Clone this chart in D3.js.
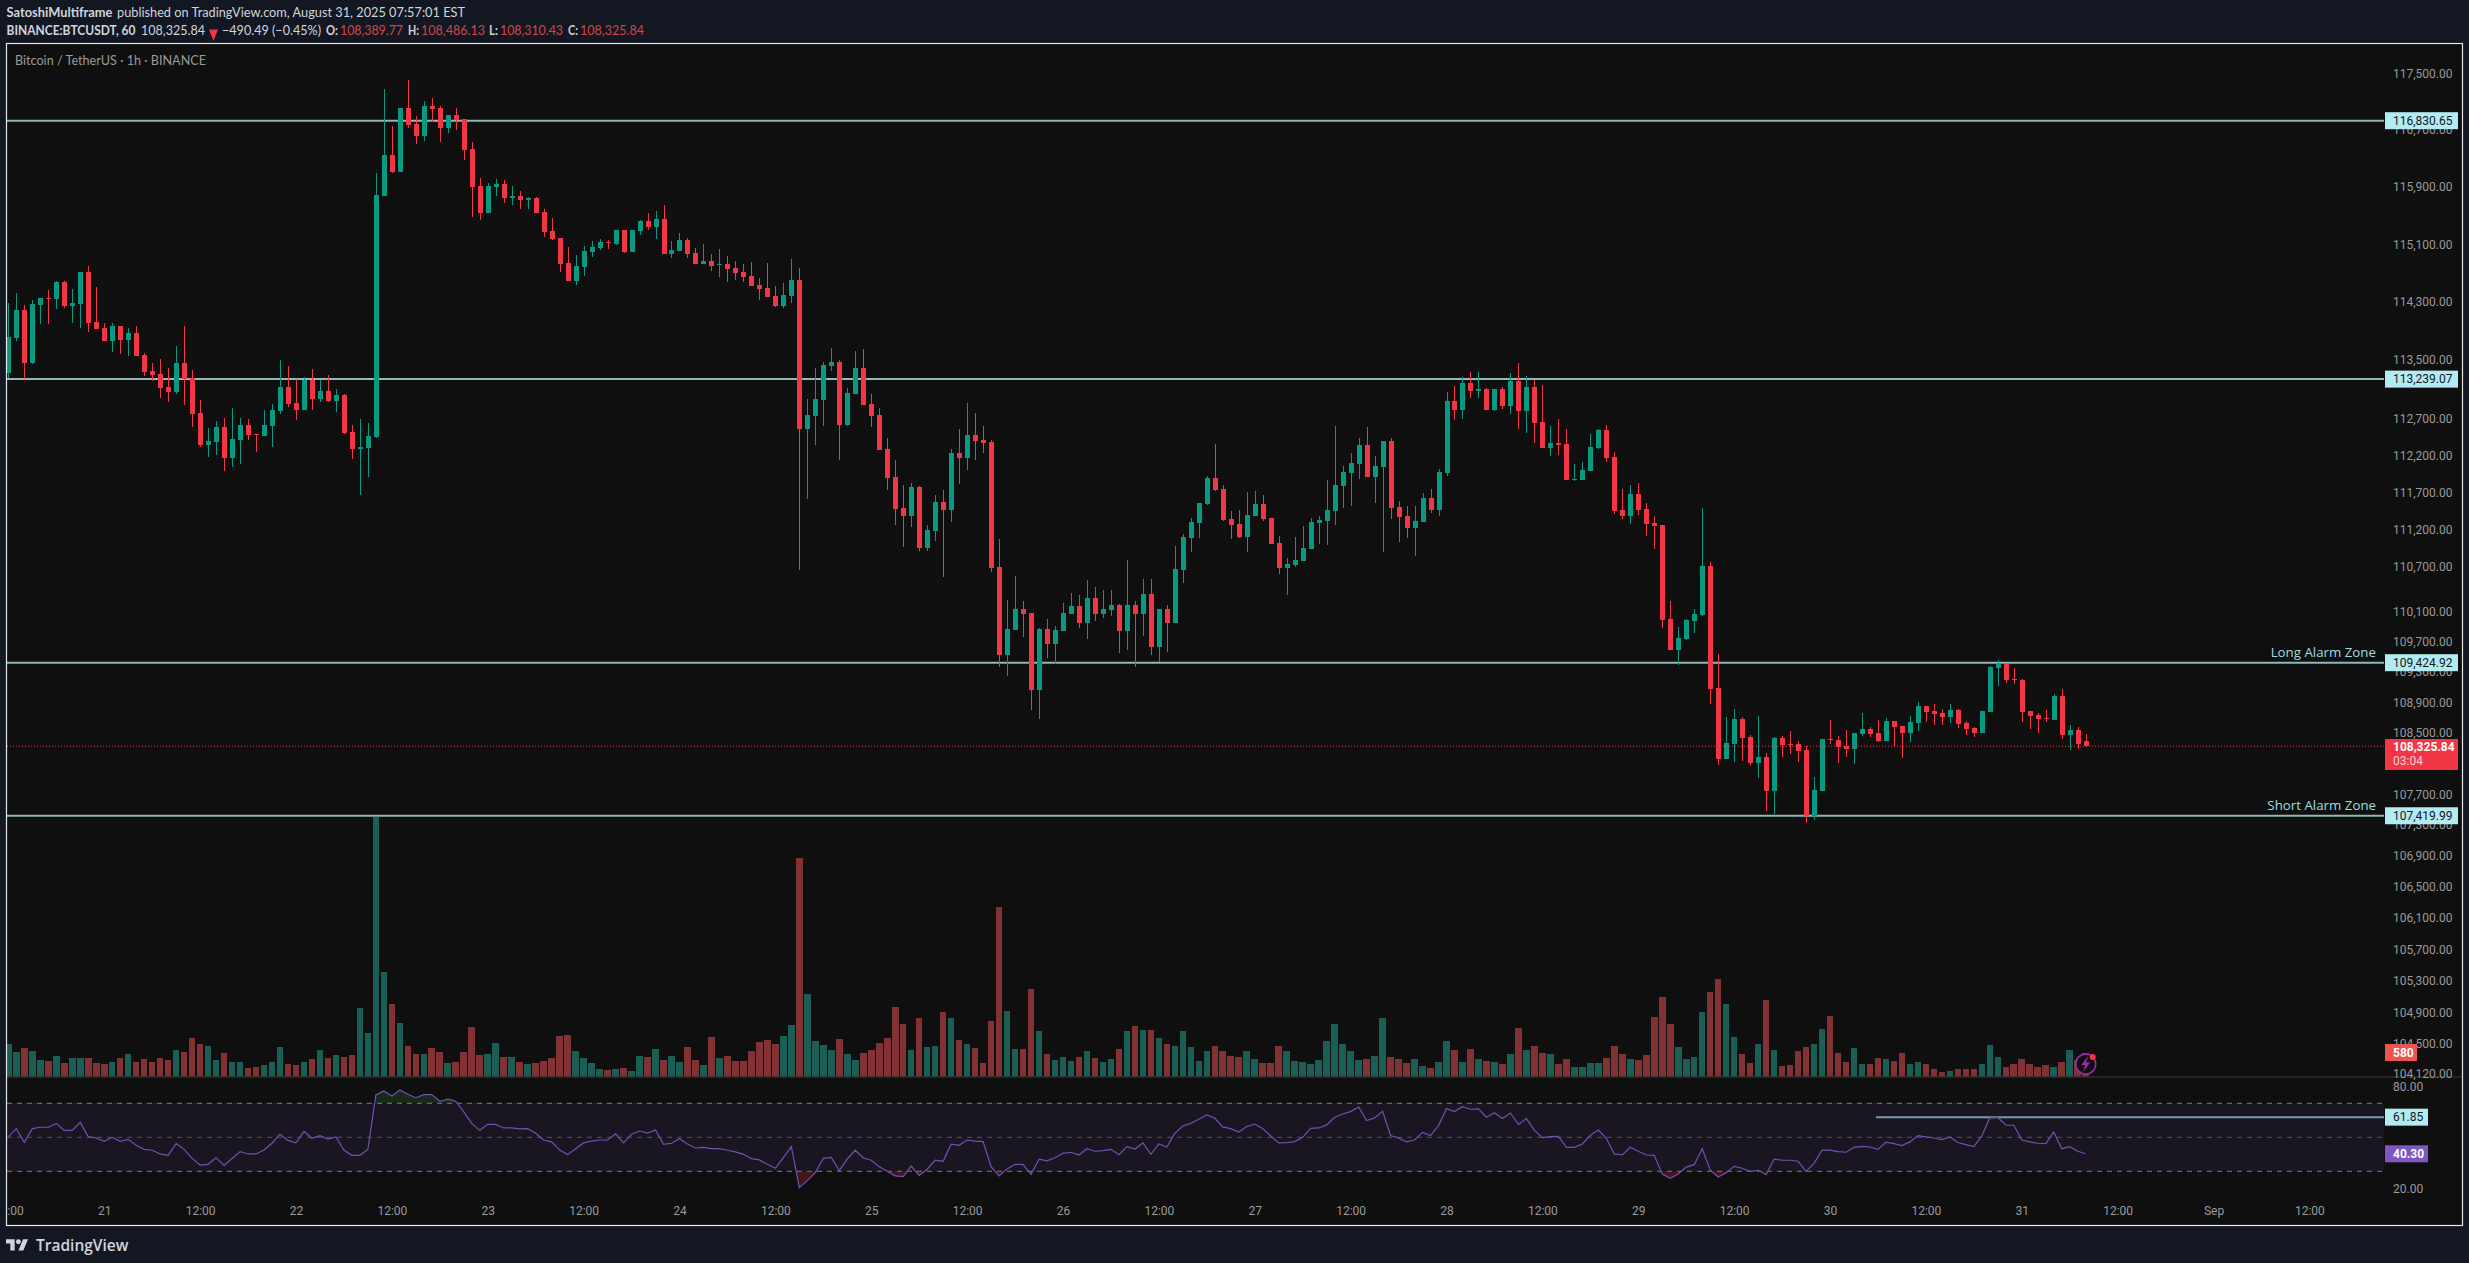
<!DOCTYPE html>
<html><head><meta charset="utf-8">
<style>html,body{margin:0;padding:0;background:#131722;overflow:hidden}svg{display:block}</style>
<script src="https://cdnjs.cloudflare.com/ajax/libs/d3/7.8.5/d3.min.js"></script>
</head><body><svg id="c" width="2469" height="1263"></svg>
<script>
const opens=[113328,113809,114182,113464,114251,114361,114334,114582,114237,114265,
114720,114030,113934,113768,113975,113782,113878,113573,113355,113314,
113137,113068,113464,113260,112782,112345,112386,112591,112168,112413,
112618,112495,112468,112604,112809,113137,112919,112823,113232,112973,
113082,112946,113027,112523,112291,112304,112447,115779,116352,116114,
117016,116790,116620,117044,117016,116733,116917,116860,116435,115919,
115541,115905,115947,115751,115779,115723,115751,115555,115290,115192,
114842,114591,114786,114996,115052,115136,115108,115304,114996,115290,
115429,115345,115457,114968,115010,115164,114982,114828,114870,114814,
114828,114772,114716,114660,114535,114493,114381,114247,114381,114604,
112563,112741,112959,113423,113478,112618,113041,113396,112905,112754,
112291,111912,111494,111386,111778,110955,111184,111575,111467,112236,
112169,112482,112413,112386,110702,109531,109864,110143,110090,109068,
109877,109677,109851,110077,110183,109957,110290,110077,110130,110197,
109851,110197,110064,110343,109638,110143,109957,110662,111090,111292,
111548,111899,111751,111346,111279,111103,111386,111548,111359,111022,
110689,110729,110782,110942,111292,111319,111454,111791,111966,112088,
112345,111912,112047,112400,111508,111386,111224,111305,111629,111467,
111966,112946,112823,113192,113083,113110,112823,113110,112878,113219,
112810,113137,112659,112304,112373,112359,111872,111872,111993,112304,
112550,112182,111467,111386,111683,111481,111292,111265,110010,109597,
109743,109983,110063,110715,109097,108163,108360,108689,108452,108110,
108189,107744,108439,108360,108360,108280,107417,107744,108425,108412,
108333,108294,108491,108557,108504,108399,108663,108596,108504,108636,
108860,108794,108768,108715,108807,108636,108570,108504,108781,109360,
109413,109215,109202,108794,108741,108702,108676,108992,108478,108544,108389.77];
const highs=[114292,114430,114251,114320,114361,114458,114596,114596,114472,114720,
114803,114513,114016,114003,113975,113934,113975,113600,113464,113519,
113396,113699,113975,113369,112959,112577,112673,112714,112850,112714,
112700,112495,112823,112905,113505,113423,113246,113273,113382,113232,
113300,113109,113041,112618,112700,112646,116100,117285,116761,117016,
117413,116903,117115,117158,117044,116917,117016,116860,116535,116031,
115961,116017,116003,115919,115849,115765,115765,115597,115471,115192,
115066,114954,115080,115150,115178,115164,115304,115304,115304,115443,
115541,115569,115653,115150,115262,115192,115052,115108,114968,115038,
114940,114870,114828,114856,114632,114842,114520,114562,114898,114772,
112973,113396,113478,113669,113505,113123,113628,113655,113041,112850,
112441,112142,111805,111831,111791,111265,111670,111737,112291,112563,
112919,112782,112604,112413,111075,110263,110582,110250,110090,109891,
110009,109917,110223,110356,110330,110529,110436,110396,110396,110210,
110795,110250,110542,110542,110143,110197,110972,111144,111359,111562,
111926,112359,111805,111454,111467,111710,111724,111670,111359,111117,
110822,111103,111252,111359,111386,111872,112604,112061,112236,112441,
112586,112196,112400,112441,111589,111521,111521,111696,111750,112020,
113069,113151,113274,113342,113342,113123,113110,113137,113328,113465,
113287,113233,113164,112605,112700,112564,112087,112114,112496,112564,
112618,112249,111750,111804,111831,111561,111386,111265,110249,109903,
110010,110143,111494,110768,109545,108715,108820,108715,108478,108728,
108241,108452,108465,108531,108399,108333,107927,108425,108676,108465,
108544,108504,108768,108583,108676,108702,108663,108596,108728,108913,
108860,108886,108820,108886,108820,108663,108583,108794,109387,109466,
109426,109360,109215,108794,108768,108807,109018,109084,108610,108583,108486.13];
const lows=[113260,113768,113246,113451,113989,113989,114196,114210,114003,113934,
113892,113920,113768,113614,113587,113560,113560,113287,113219,112986,
112932,113041,112891,112591,112318,112182,112209,111993,112047,112088,
112413,112250,112468,112318,112768,112864,112686,112823,112823,112932,
112932,112795,112495,112155,111669,111912,112440,115779,116100,116114,
116733,116506,116549,116818,116535,116662,116705,116282,115485,115443,
115541,115779,115681,115653,115597,115597,115541,115206,115164,114716,
114591,114535,114660,114926,115024,115038,115094,114982,114996,115234,
115304,115178,114968,114912,115010,114912,114828,114828,114730,114646,
114576,114604,114576,114520,114325,114367,114234,114220,114288,110662,
111616,112346,112604,113355,112142,112604,113041,112891,112591,112277,
111737,111265,110968,111238,110915,110915,111050,110569,111306,111818,
112007,112142,112236,110636,109372,109253,109864,109771,108800,108680,
109491,109412,109851,110064,109891,109744,109984,110024,110050,109558,
109597,109372,109784,109531,109438,109571,109957,110489,110902,111090,
111535,111724,111319,111076,111090,110902,111386,111319,111009,110609,
110330,110702,110782,110942,111009,110995,111265,111494,111521,111885,
111912,111562,110902,111346,111036,111090,110848,111305,111427,111386,
111926,112687,112700,112987,112987,112823,112810,112837,112769,112564,
112509,112373,112304,112195,112209,111872,111858,111872,111993,112291,
112114,111413,111346,111278,111400,111116,110941,109890,109597,109400,
109730,109823,110050,108886,108084,108163,108123,108136,108084,107914,
107482,107443,108189,108228,108123,107325,107365,107744,108360,108110,
108189,108097,108465,108452,108386,108399,108320,108176,108386,108531,
108649,108610,108610,108636,108570,108478,108452,108504,108781,109123,
109163,109150,108649,108557,108504,108649,108676,108425,108280,108294,108310.43];
const closes=[113823,114182,113464,114265,114361,114348,114582,114237,114279,114720,
114016,113920,113768,113975,113782,113878,113560,113341,113300,113123,
113068,113464,113246,112768,112345,112400,112591,112168,112427,112618,
112482,112482,112618,112823,113137,112905,112823,113232,112973,113082,
112946,113027,112509,112291,112318,112468,115793,116352,116114,117016,
116775,116620,117044,117002,116733,116917,116846,116421,115905,115541,
115919,115947,115751,115779,115723,115751,115541,115276,115178,114828,
114591,114800,115010,115066,115136,115122,115304,114996,115304,115429,
115345,115457,114968,115024,115164,114968,114828,114870,114800,114828,
114758,114702,114646,114520,114479,114367,114247,114395,114604,112563,
112754,112973,113437,113478,112618,113055,113396,112891,112741,112277,
111899,111481,111386,111778,110955,111198,111575,111467,112236,112169,
112482,112400,112372,110689,109531,109877,110143,110077,109068,109877,
109677,109864,110090,110183,109957,110290,110077,110143,110197,109851,
110197,110064,110343,109638,110143,109957,110676,111103,111306,111562,
111899,111737,111333,111265,111103,111400,111548,111346,111009,110689,
110742,110795,110955,111306,111333,111467,111805,111980,112101,112345,
111912,112061,112400,111494,111373,111224,111319,111629,111467,111979,
112946,112823,113192,113083,113110,112823,113110,112878,113219,112810,
113137,112646,112304,112373,112345,111872,111885,112006,112318,112550,
112168,111453,111386,111683,111467,111278,111251,109996,109597,109757,
109996,110076,110715,109084,108163,108373,108689,108439,108110,108189,
107744,108439,108346,108346,108267,107417,107757,108425,108412,108320,
108294,108504,108557,108491,108399,108663,108583,108504,108649,108860,
108781,108755,108715,108807,108623,108557,108504,108794,109374,109413,
109202,109202,108781,108728,108689,108689,108992,108478,108544,108360,108325.84];
const volumes=[792,600,696,624,408,384,504,336,456,456,
456,336,312,360,456,552,360,432,360,456,
408,648,600,936,792,744,408,576,360,360,
216,240,288,360,720,312,288,360,432,648,
456,528,480,528,1656,1056,6240,2520,1752,1296,
744,552,552,696,600,336,360,600,1200,528,
552,816,480,480,360,312,336,384,456,984,
1008,624,456,336,192,168,192,216,144,504,
480,672,408,504,360,720,408,288,960,456,
504,384,384,624,840,888,792,984,1248,5256,
1992,864,768,648,912,552,408,576,648,816,
936,1680,1272,648,1416,720,744,1560,1416,888,
792,696,336,1344,4080,1584,672,672,2112,1104,
552,408,480,384,480,624,456,360,432,672,
1104,1224,1128,1128,936,792,744,1104,720,384,
624,744,624,504,480,624,432,336,336,744,
624,384,360,312,408,864,1272,792,624,408,
432,504,1416,480,432,336,432,264,216,360,
864,648,360,672,432,384,360,312,552,1176,
648,744,576,552,312,432,240,240,336,336,
456,744,552,432,408,528,1440,1920,1272,720,
432,480,1560,2040,2352,1752,960,552,336,792,
1848,648,264,288,624,720,792,1152,1464,576,
360,696,312,312,456,432,384,576,312,360,
312,192,120,144,192,192,192,312,768,480,
240,312,432,312,240,288,240,360,648,408,580];
const rsi=[50.4,55.1,46.9,55.1,55.9,55.9,58.2,54.1,54.1,58.8,
50.4,49.6,47.6,50,47.6,48.8,45.3,42.9,42.4,40.2,
39.4,46.3,42.9,37.6,33.7,34.1,38,33.5,37.5,41.6,
40.2,40.2,42.5,46.5,51.8,48.2,46.7,53.5,49.4,51,
49,50.2,42.5,39.4,39.4,42.9,74.9,77.3,74.3,77.8,
75.3,73.3,75.1,75.1,71.2,72.4,71.2,64.9,58.2,54.1,
57.6,57.6,55.5,55.5,54.9,55.1,52.4,48.4,47.3,42.5,
39.8,43.3,46.7,47.8,48.4,48.4,52,46.7,51.8,53.7,
52.5,54.3,45.9,46.5,49.2,46.1,43.7,44.1,43.3,43.3,
42.4,41.4,40,37.5,36.7,34.1,31.8,38,44.5,20.4,
24.5,29.2,37.6,38.2,30.4,37.3,42.4,37.8,36.5,32.7,
30,27.3,26.9,33.1,27.6,31.2,36.5,35.9,45.9,45.3,
48.4,47.8,47.5,32.7,27.3,31.4,34.1,34.1,28.2,37.1,
36.1,38,40.6,41.2,39.6,43.3,41.8,42.2,42.9,39.8,
44.5,43.1,46.7,40,46.1,44.3,52.4,56.7,58.2,60.6,
63.1,61.2,56.1,55.1,53.1,56.3,57.8,55.1,50.8,46.7,
46.9,47.5,50,55.3,55.5,57.3,61.8,63.7,65.1,67.8,
59.8,61.4,65.3,51,49.6,47.3,48.4,52.9,51,56.9,
66.9,65.1,68,66.5,66.7,61.8,64.5,61,64.3,57.6,
61,54.1,49.8,50.4,50.6,44.1,44.1,46.1,51.2,54.3,
49.4,40.2,39.6,44.1,41.8,39.6,39.4,28.4,25.9,28.4,
32.5,33.9,43.3,30.8,26.7,29.2,32.9,31.8,29.8,30.6,
28,37.1,36.5,36.5,35.9,30,34.7,42.4,42.4,41.6,
41.2,44.1,44.7,44.3,42.9,47.1,46.3,45.1,47.3,51,
50.2,49.6,48.6,50.2,46.9,45.7,44.5,50.8,61.4,61.8,
57.1,57.1,48.4,47.3,46.5,46.3,53.1,43.3,44.5,41.8,40.3];
const priceTicks=[117500,116700,115900,115100,114300,113500,112700,112200,111700,111200,110700,110100,109700,109300,108900,108500,108100,107700,107300,106900,106500,106100,105700,105300,104900,104500,104120];
const levels=[116830.65,113239.07,109424.92,107419.99];
const lastPrice=108325.84, rsiLine=61.85, lastRsi=40.30, lastVolume=580;
const rsiBands=[70,50,30];
const rsiTicks=[80,20];
const timeLabels=["12:00","21","12:00","22","12:00","23","12:00","24","12:00","25","12:00","26","12:00","27","12:00","28","12:00","29","12:00","30","12:00","31","12:00","Sep","12:00"];
const UP="#089981",DOWN="#f23645",UPV="#1a5e55",DOWNV="#823235",PANE="#0f0f0f",LV="#8fb9ba",TAG="#b2ebf2",AX="#9a9a9a";
const FONT="Roboto, sans-serif", HF="Lato, sans-serif";

const svg=d3.select("#c");
const L=7,R=2462,PR=2384;
const x=d3.scaleLinear().domain([0,260]).range([8.33,2085.7]);
const y=d3.scaleLog().domain([117500,104120]).range([73.4,1074]);
const yV=d3.scaleLinear().domain([0,6240]).range([1077,817]);
const yR=d3.scaleLinear().domain([80,20]).range([1086.3,1188.3]);
const idx=d3.range(opens.length);

svg.append("rect").attr("width",2469).attr("height",1263).attr("fill","#131722");
svg.append("rect").attr("x",6).attr("y",43).attr("width",2457).attr("height",1183).attr("fill",PANE);
const defs=svg.append("defs");
defs.append("clipPath").attr("id","pane").append("rect").attr("x",L).attr("y",44).attr("width",R-L).attr("height",1181);
defs.append("clipPath").attr("id","over").append("rect").attr("x",L).attr("y",1080).attr("width",PR-L).attr("height",yR(70)-1080);
defs.append("clipPath").attr("id","under").append("rect").attr("x",L).attr("y",yR(30)).attr("width",PR-L).attr("height",1220-yR(30));

// header: text fitted to the widths measured in the reference
const head=[["SatoshiMultiframe",6.5,17,"#d1d4dc",700,106],["published on TradingView.com, August 31, 2025 07:57:01 EST",117,17,"#d1d4dc",400,348],
["BINANCE:BTCUSDT, 60",6.5,34.5,"#d1d4dc",700,129],["108,325.84",141,34.5,"#d1d4dc",400,64],["−490.49 (−0.45%)",222,34.5,"#d1d4dc",400,99],
["O:",326,34.5,"#d1d4dc",700,12],["108,389.77",340,34.5,"#d64545",400,63],["H:",408,34.5,"#d1d4dc",700,11],["108,486.13",421,34.5,"#d64545",400,64],
["L:",489,34.5,"#d1d4dc",700,9],["108,310.43",500,34.5,"#d64545",400,63],["C:",568,34.5,"#d1d4dc",700,10],["108,325.84",580,34.5,"#d64545",400,64],
["Bitcoin / TetherUS · 1h · BINANCE",15,65,"#9a9a9a",400,191]];
svg.append("g").selectAll("text").data(head).join("text").attr("x",d=>d[1]).attr("y",d=>d[2]).attr("font-family",HF).attr("font-size",13.4)
 .attr("fill",d=>d[3]).attr("font-weight",d=>d[4]).attr("textLength",d=>d[5]).attr("lengthAdjust","spacingAndGlyphs").text(d=>d[0]);
svg.append("path").attr("d","M209 29.5H218L213.5 41Z").attr("fill",DOWN);

const pane=svg.append("g").attr("clip-path","url(#pane)");

// volume
pane.append("g").attr("shape-rendering","crispEdges").selectAll("rect").data(idx).join("rect")
 .attr("x",i=>x(i)-3.3).attr("width",6.6).attr("y",i=>yV(volumes[i])).attr("height",i=>yV(0)-yV(volumes[i]))
 .attr("fill",i=>closes[i]>=opens[i]?UPV:DOWNV);

// separator + RSI band
pane.append("line").attr("x1",L).attr("x2",R).attr("y1",1077).attr("y2",1077).attr("stroke","#2e2e2e").attr("stroke-width",1.5);
pane.append("rect").attr("x",L).attr("width",PR-L).attr("y",yR(70)).attr("height",yR(30)-yR(70)).attr("fill","#7e57c2").attr("fill-opacity",0.1);
pane.append("g").selectAll("line").data(rsiBands).join("line").attr("x1",L).attr("x2",PR).attr("y1",d=>yR(d)).attr("y2",d=>yR(d))
 .attr("stroke","#787b86").attr("stroke-width",1).attr("stroke-dasharray","5 5").attr("stroke-opacity",d=>d==50?0.6:1);
const areaO=d3.area().x(i=>x(i)).y0(yR(70)).y1(i=>yR(rsi[i]));
const areaU=d3.area().x(i=>x(i)).y0(yR(30)).y1(i=>yR(rsi[i]));
pane.append("path").attr("d",areaO(idx)).attr("fill","#4caf50").attr("fill-opacity",0.16).attr("clip-path","url(#over)");
pane.append("path").attr("d",areaU(idx)).attr("fill",DOWN).attr("fill-opacity",0.22).attr("clip-path","url(#under)");
pane.append("line").attr("x1",1876).attr("x2",PR).attr("y1",yR(rsiLine)).attr("y2",yR(rsiLine)).attr("stroke","#7a9aa8").attr("stroke-width",2);
pane.append("path").attr("d",d3.line().x(i=>x(i)).y(i=>yR(rsi[i]))(idx)).attr("fill","none").attr("stroke","#7050b0").attr("stroke-width",1.2);

// levels
pane.append("g").selectAll("line").data(levels).join("line").attr("x1",L).attr("x2",PR).attr("y1",d=>y(d)).attr("y2",d=>y(d)).attr("stroke",LV).attr("stroke-width",2);

// candles
const cg=pane.append("g").attr("shape-rendering","crispEdges");
cg.selectAll(".w").data(idx).join("rect").attr("x",i=>Math.round(x(i))-0.5).attr("width",1).attr("y",i=>y(highs[i])).attr("height",i=>y(lows[i])-y(highs[i])).attr("fill",i=>closes[i]>=opens[i]?UP:DOWN);
cg.selectAll(".b").data(idx).join("rect").attr("x",i=>Math.round(x(i))-2.5).attr("width",5).attr("y",i=>y(Math.max(opens[i],closes[i]))).attr("height",i=>Math.max(1,Math.abs(y(opens[i])-y(closes[i])))).attr("fill",i=>closes[i]>=opens[i]?UP:DOWN);

// last-price line
pane.append("line").attr("x1",L).attr("x2",PR).attr("y1",y(lastPrice)).attr("y2",y(lastPrice)).attr("stroke",DOWN).attr("stroke-width",1).attr("stroke-dasharray","1 2");

// flash icon
const fx=x(260), fy=1064;
const fi=pane.append("g");
fi.append("circle").attr("cx",fx).attr("cy",fy).attr("r",10).attr("fill",PANE).attr("stroke","#9c27b0").attr("stroke-width",1.6);
fi.append("path").attr("d",`M${fx+2.5} ${fy-8}L${fx-4.5} ${fy+1}H${fx-0.5}L${fx-2.5} ${fy+8}L${fx+4.5} ${fy-1.5}H${fx+0.5}Z`).attr("fill","#9c27b0");
fi.append("circle").attr("cx",fx+7).attr("cy",fy-7).attr("r",3).attr("fill",DOWN);

// axes
const yAxis=d3.axisRight(y).tickValues(priceTicks).tickFormat(d3.format(",.2f")).tickSize(0).tickPadding(0);
const ay=svg.append("g").attr("transform","translate(2393,0)").call(yAxis);
ay.select(".domain").remove();
ay.selectAll("text").attr("font-family",FONT).attr("font-size",12).attr("fill",AX);
const rAxis=d3.axisRight(yR).tickValues(rsiTicks).tickFormat(d3.format(".2f")).tickSize(0).tickPadding(0);
const ar=svg.append("g").attr("transform","translate(2393,0)").call(rAxis);
ar.select(".domain").remove();
ar.selectAll("text").attr("font-family",FONT).attr("font-size",12).attr("fill",AX);
const xTicks=timeLabels.map((_,i)=>i*12);
const xAxis=d3.axisBottom(x).tickValues(xTicks).tickFormat((d,i)=>timeLabels[i]).tickSize(0).tickPadding(0);
const ax=svg.append("g").attr("clip-path","url(#pane)").append("g").attr("transform","translate(0,1206)").call(xAxis);
ax.select(".domain").remove();
ax.selectAll("text").attr("font-family",FONT).attr("font-size",12).attr("fill",AX);

// tags
function tag(x0,yc,w,h,bg,fg,txt,bold){
 const g=svg.append("g");
 g.append("rect").attr("x",x0).attr("y",yc-h/2).attr("width",w).attr("height",h).attr("fill",bg);
 g.append("text").attr("x",x0+8).attr("y",yc).attr("dy","0.36em").attr("font-family",FONT).attr("font-size",12).attr("font-weight",bold?700:400).attr("fill",fg).text(txt);
}
const fmt=d3.format(",.2f");
levels.forEach(d=>tag(2385,y(d),73,17,TAG,"#131722",fmt(d),false));
const pg=svg.append("g");
pg.append("rect").attr("x",2385).attr("y",739).attr("width",73).attr("height",31).attr("fill",DOWN);
pg.append("text").attr("x",2393).attr("y",746.5).attr("dy","0.36em").attr("font-family",FONT).attr("font-size",12).attr("font-weight",700).attr("fill","#fff").text(fmt(lastPrice));
pg.append("text").attr("x",2393).attr("y",761).attr("dy","0.36em").attr("font-family",FONT).attr("font-size",12).attr("fill","#ffd0d4").text("03:04");
tag(2385,1052.5,32,17,"#ef5350","#fff",String(lastVolume),true);
tag(2385,yR(rsiLine),43,17,TAG,"#131722",rsiLine.toFixed(2),false);
tag(2385,yR(lastRsi),43,17,"#7e57c2","#fff",lastRsi.toFixed(2),true);

// alarm zone labels
[["Long Alarm Zone",levels[2]],["Short Alarm Zone",levels[3]]].forEach(d=>{
 svg.append("text").attr("x",2376).attr("y",y(d[1])-6).attr("text-anchor","end").attr("font-family","'Open Sans', sans-serif").attr("font-size",13.3).attr("fill","#9fdde2").text(d[0]);
});

// frame
svg.append("rect").attr("x",6.5).attr("y",43.5).attr("width",2456).attr("height",1182).attr("fill","none").attr("stroke","#e8e8e8").attr("stroke-width",1.2);

// brand
const br=svg.append("g").attr("transform","translate(6,1238) scale(0.62)").attr("fill","#d1d4dc");
br.append("path").attr("d","M14 20H7V9H0V2h14v18zM28 20h-8l7.5-18h8L28 20z");
br.append("circle").attr("cx",20).attr("cy",6).attr("r",4);
svg.append("text").attr("x",36).attr("y",1250.5).attr("font-family","'Open Sans', sans-serif").attr("font-size",15.5).attr("font-weight",600).attr("fill","#d1d4dc").text("TradingView");
</script></body></html>
